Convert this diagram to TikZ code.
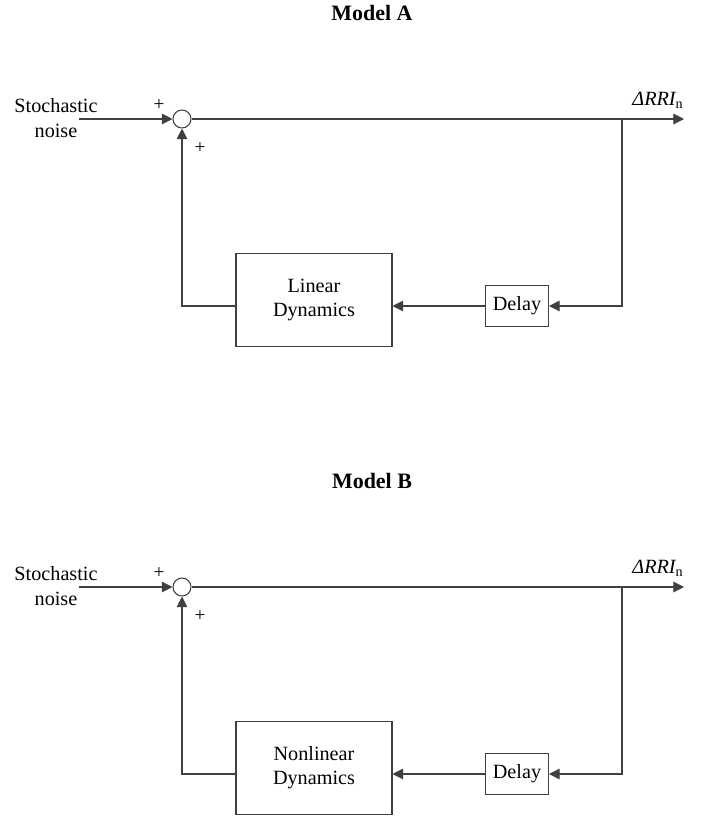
\documentclass[tikz,border=0pt]{standalone}
\usepackage{fontspec}
\setmainfont{Liberation Serif}
\usetikzlibrary{arrows.meta, positioning, calc}

\begin{document}
\begin{tikzpicture}[x=0.02cm, y=-0.02cm,
    every node/.style={font=\fontsize{11.5}{13.8}\selectfont},
    line/.style={draw=black!75, line width=0.6pt},
    arr/.style={line, -{Triangle[length=6pt, width=6pt]}},
    blk/.style={draw=black!75, line width=0.6pt, inner sep=0pt},
    sumc/.style={circle, draw=black!75, line width=0.6pt, minimum size=0.36cm, inner sep=0pt},
    sgn/.style={font=\fontsize{11}{12}\selectfont, inner sep=0pt}]
  \useasboundingbox (0,0) rectangle (702,819);
  \foreach \m/\dy/\kind in {A/0/Linear, B/468/Nonlinear} {
    \node[font=\fontsize{12.5}{15}\selectfont\bfseries] (title\m) at (372, 13+\dy) {Model \m};
    % summing junction and input
    \node[sumc] (sum\m) at (182, 119+\dy) {};
    \node[align=center] (noise\m) at (56, 118+\dy) {Stochastic\\noise};
    \coordinate (in\m) at (79, 119+\dy);
    \node[sgn] (pa\m) at (159, 105+\dy) {+};
    \node[sgn] (pb\m) at (200, 148+\dy) {+};
    % output
    \coordinate (tap\m) at (622, 119+\dy);
    \coordinate (out\m) at (684, 119+\dy);
    \node (lab\m) at (658, 100+\dy) {{\itshape ΔRRI}\textsubscript{n}};
    % feedback blocks
    \node[blk, minimum width=1.26cm, minimum height=0.82cm] (delay\m) at (517, 306+\dy) {Delay};
    \node[blk, align=center, minimum width=3.12cm, minimum height=1.86cm] (dyn\m) at (314, 300+\dy) {\kind\\Dynamics};
    \draw[arr] (in\m) -- (sum\m.west);
    \draw[arr] (sum\m.east) -- (out\m);
    \draw[arr] (tap\m) |- (delay\m.east);
    \draw[arr] (delay\m.west) -- (dyn\m.east |- delay\m.west);
    \draw[arr] (dyn\m.west |- delay\m.west) -| (sum\m.south);
  }
\end{tikzpicture}
\end{document}
